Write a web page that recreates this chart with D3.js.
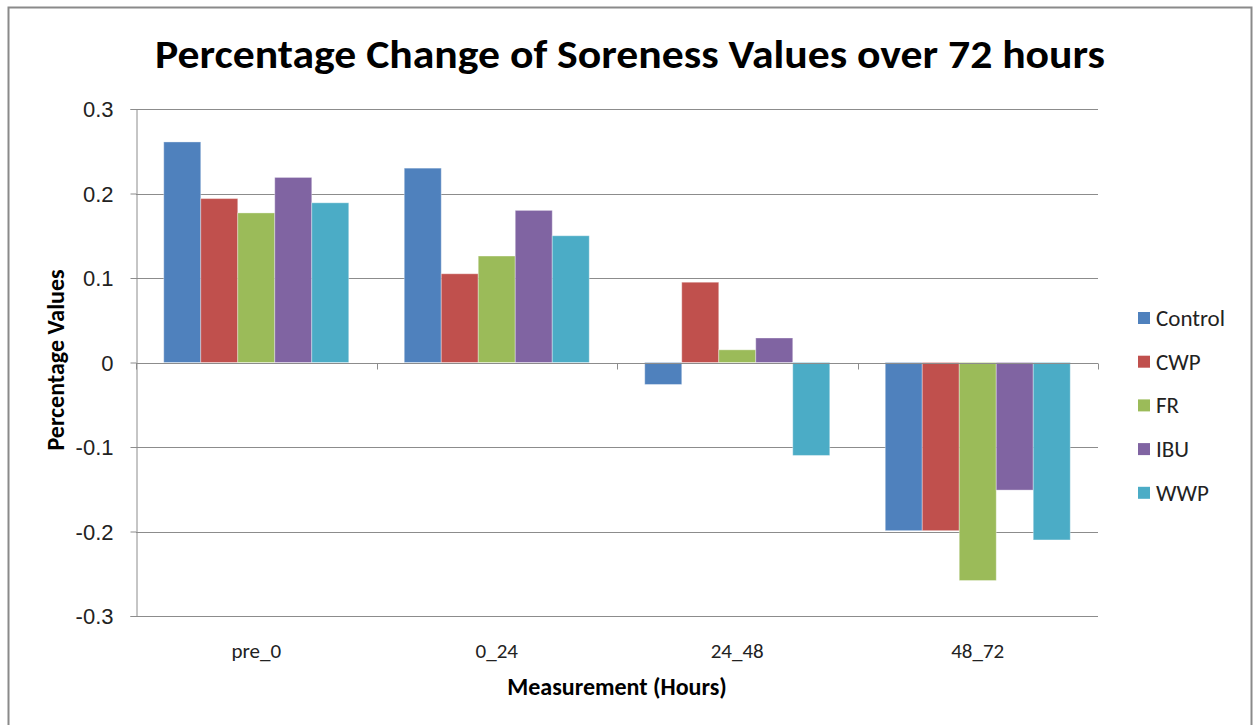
<!DOCTYPE html>
<html>
<head>
<meta charset="utf-8">
<script src="https://cdn.jsdelivr.net/npm/d3@7"></script>
<style>
  body { margin: 0; background: #fff; }
  svg { display: block; font-family: Carlito, Calibri, Lato, "Open Sans", sans-serif; }
</style>
</head>
<body>
<div id="chart"></div>
<script>
const categories = ['pre_0', '0_24', '24_48', '48_72'];
const seriesNames = ['Control', 'CWP', 'FR', 'IBU', 'WWP'];
const seriesColors = ['#4F81BD', '#C0504D', '#9BBB59', '#8064A2', '#4BACC6'];
const control = [0.261, 0.230, -0.026, -0.199];
const cwp = [0.194, 0.105, 0.095, -0.199];
const fr = [0.177, 0.126, 0.015, -0.258];
const ibu = [0.219, 0.180, 0.029, -0.151];
const wwp = [0.189, 0.150, -0.110, -0.210];
const yTicks = [-0.3, -0.2, -0.1, 0, 0.1, 0.2, 0.3];

const seriesValues = [control, cwp, fr, ibu, wwp];

const width = 1253;
const height = 725;
const plot = { left: 136, right: 1098, top: 109, bottom: 616 };

const svg = d3.select('#chart')
  .append('svg')
  .attr('width', width)
  .attr('height', height);

// outer chart frame
svg.append('rect')
  .attr('x', 8.5)
  .attr('y', 7.5)
  .attr('width', 1243)
  .attr('height', 730)
  .attr('fill', 'none')
  .attr('stroke', '#8a8a8a')
  .attr('stroke-width', 2);

const x0 = d3.scaleBand()
  .domain(categories)
  .range([plot.left, plot.right])
  .padding(0);

// gap width 150% of a bar
const x1 = d3.scaleBand()
  .domain(seriesNames)
  .range([0, x0.bandwidth()])
  .paddingInner(0)
  .paddingOuter(0.75);

const y = d3.scaleLinear()
  .domain([-0.3, 0.3])
  .range([plot.bottom, plot.top]);

// gridlines
svg.append('g')
  .selectAll('line')
  .data(yTicks)
  .join('line')
  .attr('x1', plot.left)
  .attr('x2', plot.right)
  .attr('y1', (d) => Math.round(y(d)) + 0.5)
  .attr('y2', (d) => Math.round(y(d)) + 0.5)
  .attr('stroke', '#8c8c8c')
  .attr('stroke-width', 1);

// bars
const groups = svg.append('g')
  .selectAll('g')
  .data(categories)
  .join('g')
  .attr('transform', (c) => `translate(${x0(c)},0)`);

groups.selectAll('rect')
  .data((c, i) => seriesNames.map((s, j) => ({ s, j, v: seriesValues[j][i] })))
  .join('rect')
  .attr('x', (d) => x1(d.s))
  .attr('width', x1.bandwidth())
  .attr('y', (d) => y(Math.max(0, d.v)))
  .attr('height', (d) => Math.abs(y(d.v) - y(0)))
  .attr('fill', (d) => seriesColors[d.j])
  .attr('stroke', 'rgba(255,255,255,0.35)')
  .attr('stroke-width', 1);

// y axis
const yAxis = d3.axisLeft(y)
  .tickValues(yTicks)
  .tickSize(6)
  .tickPadding(17)
  .tickFormat((d) => (d === 0 ? '0' : d.toFixed(1)));

const yg = svg.append('g')
  .attr('transform', `translate(${plot.left + 0.5},0)`)
  .call(yAxis);
yg.select('.domain').attr('stroke', '#8c8c8c');
yg.selectAll('.tick line').attr('stroke', '#8c8c8c');
yg.selectAll('.tick text')
  .attr('fill', '#222')
  .attr('dy', '0.36em')
  .style('font-size', '22px')
  .style('font-family', 'inherit');

// x axis along zero
const zeroY = Math.round(y(0)) + 0.5;
svg.append('line')
  .attr('x1', plot.left)
  .attr('x2', plot.right)
  .attr('y1', zeroY)
  .attr('y2', zeroY)
  .attr('stroke', '#8c8c8c');

const boundaries = categories.map((c) => x0(c)).concat([x0(categories[categories.length - 1]) + x0.bandwidth()]);
svg.append('g')
  .selectAll('line')
  .data(boundaries)
  .join('line')
  .attr('x1', (d) => Math.round(d) + 0.5)
  .attr('x2', (d) => Math.round(d) + 0.5)
  .attr('y1', zeroY)
  .attr('y2', zeroY + 6)
  .attr('stroke', '#8c8c8c');

svg.append('g')
  .selectAll('text')
  .data(categories)
  .join('text')
  .attr('x', (c) => x0(c) + x0.bandwidth() / 2)
  .attr('y', 658)
  .attr('text-anchor', 'middle')
  .attr('fill', '#222')
  .style('font-size', '21px')
  .text((c) => c);

// titles
svg.append('text')
  .attr('x', 630)
  .attr('y', 68)
  .attr('text-anchor', 'middle')
  .attr('textLength', 950)
  .attr('lengthAdjust', 'spacingAndGlyphs')
  .style('font-size', '40px')
  .style('font-weight', 'bold')
  .text('Percentage Change of Soreness Values over 72 hours');

svg.append('text')
  .attr('x', 617)
  .attr('y', 695)
  .attr('text-anchor', 'middle')
  .style('font-size', '24px')
  .style('font-weight', 'bold')
  .text('Measurement (Hours)');

svg.append('text')
  .attr('transform', 'translate(64,360) rotate(-90)')
  .attr('text-anchor', 'middle')
  .style('font-size', '24px')
  .style('font-weight', 'bold')
  .text('Percentage Values');

// legend
const legend = svg.append('g')
  .selectAll('g')
  .data(seriesNames)
  .join('g')
  .attr('transform', (d, i) => `translate(1138,${318 + i * 43.7})`);

legend.append('rect')
  .attr('x', 0)
  .attr('y', -6)
  .attr('width', 12)
  .attr('height', 12)
  .attr('fill', (d, i) => seriesColors[i]);

legend.append('text')
  .attr('x', 18)
  .attr('y', 8)
  .attr('fill', '#222')
  .style('font-size', '23px')
  .text((d) => d);
</script>
</body>
</html>
